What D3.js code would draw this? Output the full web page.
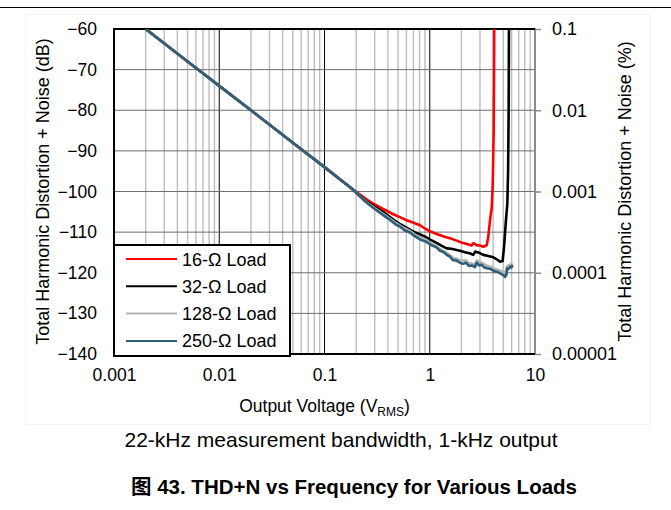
<!doctype html>
<html>
  <head>
    <meta charset="utf-8"/>
    <title>THD+N vs Output Voltage</title>
    <style>
      body, html {
        margin: 0;
        padding: 0;
        background: white;
        font-family: "Liberation Sans", Arial, "Noto Sans CJK SC", sans-serif;
      }
      svg { display: block; }
      .axis text { font-size: 17.5px; fill: black; font-family: "Liberation Sans", Arial, sans-serif; }
      .axis path.domain { display: none; }
      .legend text { font-size: 18px; }
    </style>
    <script src="https://d3js.org/d3.v7.min.js"></script>
  </head>
  <body>
    <svg width="671" height="510"></svg>
    <script>
      // ---- data ----
      var xTicks = [0.001, 0.01, 0.1, 1, 10];
      var xTickLabels = ["0.001", "0.01", "0.1", "1", "10"];
      var yTicks = [-60, -70, -80, -90, -100, -110, -120, -130, -140];
      var pctTicks = [0.1, 0.01, 0.001, 0.0001, 0.00001];
      var pctTickLabels = ["0.1", "0.01", "0.001", "0.0001", "0.00001"];

      var loadNames = ["16-\u03A9 Load", "32-\u03A9 Load", "128-\u03A9 Load", "250-\u03A9 Load"];
      var loadColors = ["#ff0000", "#000000", "#b3b3b3", "#2d5f79"];

      // [output voltage (Vrms), THD+N (dB)]
      var load16 = [[0.002,-60],[0.005,-68],[0.01,-74],[0.02,-80],[0.05,-88],[0.1,-94],[0.18,-99.2],
        [0.252,-102.0],[0.3,-103.2],[0.36,-104.3],[0.45,-105.6],[0.52,-106.3],[0.604,-107.1],[0.7,-107.7],
        [0.808,-108.3],[0.9,-109.1],[1.0,-109.8],[1.2,-110.6],[1.4,-111.2],[1.56,-111.5],[1.8,-112.1],
        [2.07,-112.7],[2.3,-113.0],[2.5,-113.3],[2.6,-112.7],[2.79,-113.2],[3.0,-113.3],[3.23,-113.6],
        [3.48,-113.2],[3.6,-111.1],[3.74,-107.0],[3.88,-104],[3.97,-98],[4.05,-85],[4.08,-70],[4.1,-58]];

      var load32 = [[0.002,-60],[0.005,-68],[0.01,-74],[0.02,-80],[0.05,-88],[0.1,-94],[0.18,-99.2],
        [0.25,-102.4],[0.3,-103.8],[0.36,-105.0],[0.45,-106.9],[0.52,-108.0],[0.6,-108.9],[0.7,-109.9],
        [0.81,-110.6],[0.9,-111.1],[1.02,-111.9],[1.15,-112.6],[1.3,-113.4],[1.45,-114.0],[1.6,-114.1],
        [1.8,-114.4],[1.94,-114.6],[2.2,-115.0],[2.4,-115.2],[2.59,-115.6],[2.7,-114.8],[2.89,-115.0],
        [3.23,-115.6],[3.6,-115.9],[4.02,-116.2],[4.4,-116.8],[4.65,-117.3],[4.93,-117.1],[5.08,-113.6],
        [5.2,-110],[5.3,-107.0],[5.46,-103],[5.55,-95],[5.62,-80],[5.66,-58]];

      var load128 = [[0.002,-60],[0.005,-68],[0.01,-74],[0.02,-80],[0.05,-88],[0.1,-94],[0.18,-99.2],
        [0.25,-102.6],[0.3,-104.1],[0.36,-105.5],[0.42,-106.7],[0.48,-107.8],[0.56,-108.9],[0.65,-109.7],
        [0.72,-110.6],[0.81,-111.3],[0.93,-111.9],[1.0,-112.6],[1.12,-113.2],[1.25,-114.1],[1.45,-115.1],
        [1.66,-116.3],[1.8,-116.5],[1.95,-117.0],[2.2,-117.0],[2.35,-117.6],[2.5,-117.7],[2.69,-118.0],
        [2.8,-117.0],[3.1,-117.5],[3.5,-118.3],[3.8,-118.6],[4.1,-119.0],[4.7,-119.5],[5.0,-119.9],
        [5.2,-120.2],[5.4,-118.5],[5.6,-118.2],[5.9,-118.0],[6.05,-117.6]];

      var load250 = [[0.002,-60],[0.005,-68],[0.01,-74],[0.02,-80],[0.05,-88],[0.1,-94],[0.18,-99.2],
        [0.25,-102.7],[0.3,-104.3],[0.36,-105.8],[0.42,-107.0],[0.48,-108.2],[0.52,-108.6],[0.58,-109.6],
        [0.65,-110.1],[0.72,-111.0],[0.81,-111.8],[0.93,-112.4],[1.05,-113.3],[1.15,-113.7],[1.25,-114.6],
        [1.35,-114.9],[1.45,-115.6],[1.55,-116.0],[1.66,-116.9],[1.8,-117.0],[1.95,-117.6],[2.08,-117.8],
        [2.2,-117.5],[2.35,-118.3],[2.5,-118.2],[2.69,-118.6],[2.8,-117.5],[2.95,-118.2],[3.1,-118.0],
        [3.3,-118.7],[3.5,-118.9],[3.8,-119.1],[4.1,-119.6],[4.4,-119.8],[4.7,-120.2],[5.0,-120.6],
        [5.2,-121.0],[5.35,-120.5],[5.45,-118.9],[5.6,-119.1],[5.8,-118.5],[5.95,-118.7],[6.15,-118.1]];

      var series = [load16, load32, load128, load250];

      // ---- layout ----
      var svg = d3.select("svg");
      var plotLeft = 114, plotTop = 29, plotRight = 535, plotBottom = 354;

      var x = d3.scaleLog().domain([0.001, 10]).range([plotLeft, plotRight]);
      var y = d3.scaleLinear().domain([-140, -60]).range([plotBottom, plotTop]);
      var yPct = d3.scaleLog().domain([0.00001, 0.1]).range([plotBottom, plotTop]);

      // page rule at the top
      svg.append("line")
        .attr("x1", 0).attr("x2", 671).attr("y1", 7.5).attr("y2", 7.5)
        .attr("stroke", "#000").attr("stroke-width", 1);

      // faint chart-area frame
      svg.append("rect")
        .attr("x", 25.5).attr("y", 14.5).attr("width", 625).attr("height", 410)
        .attr("fill", "none").attr("stroke", "#f3f3f3");

      svg.append("defs").append("clipPath").attr("id", "plot-clip")
        .append("rect").attr("x", plotLeft).attr("y", plotTop)
        .attr("width", plotRight - plotLeft).attr("height", plotBottom - plotTop);

      var grid = svg.append("g");

      // minor vertical grid (2..9 in each decade)
      var minor = [];
      xTicks.slice(0, -1).forEach(function(d) {
        for (var k = 2; k <= 9; k++) minor.push(d * k);
      });
      grid.selectAll(".vminor").data(minor).enter().append("line")
        .attr("x1", function(d) { return x(d); }).attr("x2", function(d) { return x(d); })
        .attr("y1", plotTop).attr("y2", plotBottom)
        .attr("stroke", "#bdbdbd").attr("stroke-width", 1.4);

      // decade lines
      grid.selectAll(".vmajor").data(xTicks.slice(1, -1)).enter().append("line")
        .attr("x1", function(d) { return x(d); }).attr("x2", function(d) { return x(d); })
        .attr("y1", plotTop).attr("y2", plotBottom)
        .attr("stroke", "#000").attr("stroke-width", 1);

      // horizontal grid
      grid.selectAll(".hgrid").data(yTicks.slice(1, -1)).enter().append("line")
        .attr("x1", plotLeft).attr("x2", plotRight)
        .attr("y1", function(d) { return y(d); }).attr("y2", function(d) { return y(d); })
        .attr("stroke", "#6e6e6e").attr("stroke-width", 1);

      // right axis (percent)
      svg.append("g")
        .attr("class", "axis")
        .attr("transform", "translate(" + plotRight + ",0)")
        .call(d3.axisRight(yPct).tickValues(pctTicks).tickSize(6).tickPadding(11)
          .tickFormat(function(d, i) { return pctTickLabels[i]; }))
        .call(function(g) {
          g.selectAll(".tick line").attr("stroke", "#8c8c8c").attr("stroke-width", 1.5);
          g.selectAll("text").style("font-size", "18px");
        });

      svg.append("line")
        .attr("x1", plotRight).attr("x2", plotRight).attr("y1", plotTop - 1).attr("y2", plotBottom + 1)
        .attr("stroke", "#8c8c8c").attr("stroke-width", 2);

      // plot border (left, top, bottom)
      svg.append("path")
        .attr("d", "M" + plotRight + "," + plotTop + "H" + plotLeft + "V" + plotBottom + "H" + plotRight)
        .attr("fill", "none").attr("stroke", "#000").attr("stroke-width", 2);

      // left axis (dB)
      svg.append("g")
        .attr("class", "axis")
        .attr("transform", "translate(" + plotLeft + ",0)")
        .call(d3.axisLeft(y).tickValues(yTicks).tickSize(0).tickPadding(17));

      // bottom axis
      svg.append("g")
        .attr("class", "axis")
        .attr("transform", "translate(0," + plotBottom + ")")
        .call(d3.axisBottom(x).tickValues(xTicks).tickSize(0).tickPadding(15)
          .tickFormat(function(d, i) { return xTickLabels[i]; }));

      // data lines
      var line = d3.line()
        .x(function(d) { return x(d[0]); })
        .y(function(d) { return y(d[1]); });

      svg.append("g").attr("clip-path", "url(#plot-clip)")
        .selectAll("path").data(series).enter().append("path")
          .attr("d", line)
          .attr("fill", "none")
          .attr("stroke", function(d, i) { return loadColors[i]; })
          .attr("stroke-width", 2.6)
          .attr("stroke-linejoin", "round");

      // legend
      var legend = svg.append("g").attr("class", "legend");
      legend.append("rect")
        .attr("x", plotLeft).attr("y", 245).attr("width", 176).attr("height", 111)
        .attr("fill", "white").attr("stroke", "#000").attr("stroke-width", 2);

      var item = legend.selectAll(".item").data(loadNames).enter().append("g")
        .attr("transform", function(d, i) { return "translate(0," + (259 + i * 27.3) + ")"; });
      item.append("line")
        .attr("x1", 126).attr("x2", 177).attr("y1", 0).attr("y2", 0)
        .attr("stroke", function(d, i) { return loadColors[i]; })
        .attr("stroke-width", 2);
      item.append("text")
        .attr("x", 182).attr("y", 6.5)
        .text(function(d) { return d; });

      // axis titles
      svg.append("text")
        .attr("transform", "translate(49," + ((plotTop + plotBottom) / 2) + ") rotate(-90)")
        .attr("text-anchor", "middle")
        .style("font-size", "18px")
        .text("Total Harmonic Distortion + Noise (dB)");

      svg.append("text")
        .attr("transform", "translate(631," + ((plotTop + plotBottom) / 2) + ") rotate(-90)")
        .attr("text-anchor", "middle")
        .style("font-size", "18px")
        .text("Total Harmonic Distortion + Noise (%)");

      var xt = svg.append("text")
        .attr("x", (plotLeft + plotRight) / 2).attr("y", 412)
        .attr("text-anchor", "middle")
        .style("font-size", "17.5px");
      xt.append("tspan").text("Output Voltage (V");
      xt.append("tspan").attr("dy", 4).style("font-size", "12px").text("RMS");
      xt.append("tspan").attr("dy", -4).text(")");

      svg.append("text")
        .attr("x", 341).attr("y", 447)
        .attr("text-anchor", "middle")
        .style("font-size", "21px")
        .text("22-kHz measurement bandwidth, 1-kHz output");

      svg.append("text")
        .attr("x", 354).attr("y", 494)
        .attr("text-anchor", "middle")
        .style("font-size", "20.5px")
        .style("font-weight", "bold")
        .style("font-family", "'Liberation Sans', 'Noto Sans CJK SC', sans-serif")
        .text("\u56FE 43. THD+N vs Frequency for Various Loads");
    </script>
  </body>
</html>
